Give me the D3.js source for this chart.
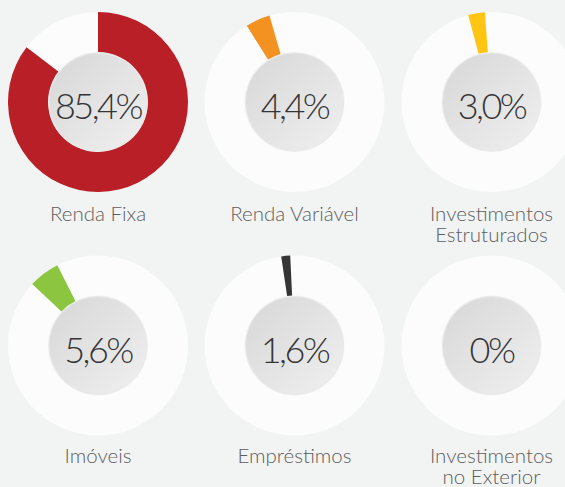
<!DOCTYPE html>
<html>
<head>
<meta charset="utf-8">
<script src="https://cdn.jsdelivr.net/npm/d3@7"></script>
<style>
html,body{margin:0;padding:0;background:#f2f3f3;}
svg{display:block;}
</style>
</head>
<body>
<svg id="chart" width="565" height="487"></svg>
<script>
// Data
const categories = [["Renda Fixa"], ["Renda Variável"], ["Investimentos", "Estruturados"],
                    ["Imóveis"], ["Empréstimos"], ["Investimentos", "no Exterior"]];
const values = [85.4, 4.4, 3.0, 5.6, 1.6, 0];
const valueLabels = ["85,4%", "4,4%", "3,0%", "5,6%", "1,6%", "0%"];
const colors = ["#b91f26", "#f39121", "#ffc512", "#8cc53f", "#353535", "#999999"];

// Layout (styling, not data)
const startRotations = [0, -32, -15, -47, -8.5, 0]; // degrees, clockwise from 12 o'clock
const donutX = [98, 294.5, 491.5];
const donutY = [102, 345.5];
const labelY = [221, 463];
const rOuter = 90, rInner = 50;

const svg = d3.select("#chart");
const defs = svg.append("defs");
const grad = defs.append("linearGradient").attr("id", "centerGrad")
  .attr("x1", "0%").attr("y1", "0%").attr("x2", "100%").attr("y2", "100%");
grad.append("stop").attr("offset", "0%").attr("stop-color", "#d8d7d7");
grad.append("stop").attr("offset", "100%").attr("stop-color", "#f0f0f0");

const arc = d3.arc().innerRadius(rInner).outerRadius(rOuter);
const toRad = d => d * Math.PI / 180;

values.forEach((v, i) => {
  const col = i % 3, row = Math.floor(i / 3);
  const g = svg.append("g").attr("transform", `translate(${donutX[col]},${donutY[row]})`);
  // background ring
  g.append("path")
    .attr("d", arc({startAngle: 0, endAngle: 2 * Math.PI}))
    .attr("fill", "#fcfcfc");
  const s = toRad(startRotations[i]);
  const pie = d3.pie().sort(null).startAngle(s).endAngle(s + 2 * Math.PI);
  const slices = pie([v, 100 - v]);
  if (v > 0) {
    g.append("path").attr("d", arc(slices[0])).attr("fill", colors[i]);
  }
  // center disc
  g.append("circle").attr("r", rInner - 1)
    .attr("fill", "url(#centerGrad)")
    .attr("stroke", "#e9e9e9").attr("stroke-width", 1);
  g.append("text")
    .attr("text-anchor", "middle")
    .attr("y", 17)
    .attr("font-family", "Lato, sans-serif")
    .attr("font-weight", 300)
    .attr("font-size", 36)
    .attr("letter-spacing", -2.5)
    .attr("fill", "#353535")
    .text(valueLabels[i]);

  categories[i].forEach((line, k) => {
    svg.append("text")
      .attr("text-anchor", "middle")
      .attr("font-family", "Lato, sans-serif")
      .attr("font-weight", 300)
      .attr("font-size", 20.5)
      .attr("fill", "#5e5e5e")
      .attr("x", donutX[col])
      .attr("y", labelY[row] + k * 21)
      .text(line);
  });
});
</script>
</body>
</html>
